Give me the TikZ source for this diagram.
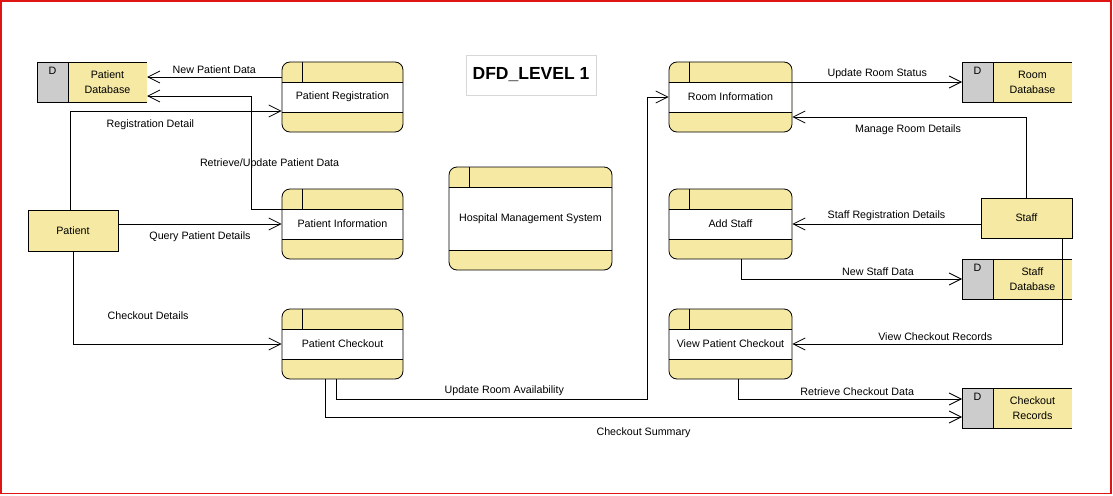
\documentclass[tikz,border=0pt]{standalone}
\usepackage{fontspec}
\setmainfont{Liberation Sans}
\usetikzlibrary{positioning,arrows.meta}
\definecolor{dfdyellow}{RGB}{245,233,163}
\definecolor{dfdgray}{RGB}{204,204,204}
\definecolor{framered}{RGB}{225,20,20}
\definecolor{titleline}{RGB}{215,215,215}

\begin{document}
\begin{tikzpicture}
            [x=1pt, y=-1pt, line width=0.8pt,
            font=\fontsize{10.7}{15}\selectfont,
            every node/.style={inner sep=3pt},
            proc/.style={rectangle, rounded corners=8pt, draw, fill=dfdyellow,
            minimum width=121pt, minimum height=70pt,
            path picture={
            \fill[white, sharp corners] ([yshift=-20pt]path picture bounding box.north west)
                rectangle ([yshift=20pt]path picture bounding box.south east);
            \draw[sharp corners] ([yshift=-20pt]path picture bounding box.north west)
                -- ([yshift=-20pt]path picture bounding box.north east)
                ([yshift=20pt]path picture bounding box.south west)
                -- ([yshift=20pt]path picture bounding box.south east)
                ([xshift=20pt]path picture bounding box.north west)
                -- ([xshift=20pt,yshift=-20pt]path picture bounding box.north west);}},
            entity/.style={rectangle, draw, fill=dfdyellow,
            minimum width=90pt, minimum height=41pt},
            store/.style={rectangle, fill=dfdyellow, align=center,
            minimum width=79pt, minimum height=40pt, outer sep=0pt},
            storeid/.style={rectangle, draw, fill=dfdgray, outer sep=0pt,
            minimum width=31pt, minimum height=40pt,
            label={[anchor=north, inner sep=4.5pt]north:D}},
            flow/.style={draw, -{Straight Barb[length=12pt,width=12pt]}}]
            \useasboundingbox (0,0) rectangle (1113,495);
            \draw[framered, line width=1.6pt] (1,0.8) rectangle (1111.2,493.6);

            \node[draw=titleline, line width=0.6pt, minimum width=130pt, minimum height=40pt,
                font=\bfseries\fontsize{17.5}{20}\selectfont] (title) at (531,75) {DFD\_LEVEL 1};

            \node[store] (pdb) at (107.5,82) {Patient\\Database};
            \node[storeid, left=0pt of pdb] (pdb-id) {};
            \draw (pdb-id.north west) -- (pdb.north east) (pdb-id.south west) -- (pdb.south east);
            \node[store] (rdb) at (1032.5,82) {Room\\Database};
            \node[storeid, left=0pt of rdb] (rdb-id) {};
            \draw (rdb-id.north west) -- (rdb.north east) (rdb-id.south west) -- (rdb.south east);
            \node[store] (sdb) at (1032.5,279) {Staff\\Database};
            \node[storeid, left=0pt of sdb] (sdb-id) {};
            \draw (sdb-id.north west) -- (sdb.north east) (sdb-id.south west) -- (sdb.south east);
            \node[store] (crec) at (1032.5,408) {Checkout\\Records};
            \node[storeid, left=0pt of crec] (crec-id) {};
            \draw (crec-id.north west) -- (crec.north east) (crec-id.south west) -- (crec.south east);

            \node[proc] (preg) at (342.5,97) {Patient Registration};
            \node[proc] (pinfo) at (342.5,224) {Patient Information};
            \node[proc] (pchk) at (342.5,344) {Patient Checkout};
            \node[proc, minimum width=163pt, minimum height=103pt] (hms) at (530.5,218.5) {Hospital Management System};
            \node[proc, minimum width=123pt] (rinfo) at (730.5,97) {Room Information};
            \node[proc, minimum width=123pt] (astaff) at (730.5,224) {Add Staff};
            \node[proc, minimum width=123pt] (vpc) at (730.5,344) {View Patient Checkout};
            \node[entity] (patient) at (73,230.5) {Patient};
            \node[entity, minimum width=91pt, minimum height=40pt] (staff) at (1026.5,218) {Staff};

            \draw[flow] ([yshift=20pt]preg.west) -- node[above] (l-npd) {New Patient Data} ([yshift=5pt]pdb.east);
            \draw[flow] ([yshift=15pt]pinfo.west) -- ++(-30,0)
                |- node[pos=0.2, xshift=18pt] (l-rupd) {Retrieve/Update Patient Data} ([yshift=-14pt]pdb.east);
            \draw[flow] ([xshift=-3pt]patient.north) |- node[pos=0.69, below=5pt] (l-rd) {Registration Detail} ([yshift=-14pt]preg.west);
            \draw[flow] ([yshift=6.5pt]patient.east) -- node[below=4pt] (l-qpd) {Query Patient Details} (pinfo.west);
            \draw[flow] (patient.south) |- node[pos=0.68, above=21pt] (l-cd) {Checkout Details} (pchk.west);
            \draw[flow] ([xshift=-6.5pt]pchk.south) -- ++(0,20)
                -| node[pos=0.27, above] (l-ura) {Update Room Availability} ([xshift=-21pt]rinfo.west) -- (rinfo.west);
            \draw[flow] ([xshift=-17.5pt]pchk.south) |- node[pos=0.75, below=7pt] (l-cs) {Checkout Summary} ([yshift=-9pt]crec-id.west);
            \draw[flow] ([xshift=7.5pt]vpc.south) |- node[pos=0.766, above] (l-rcd) {Retrieve Checkout Data} ([yshift=9pt]crec-id.west);
            \draw[flow] ([yshift=15pt]rinfo.east) -- node[above] (l-urs) {Update Room Status} (rdb-id.west);
            \draw[flow] (staff.north) |- node[pos=0.753, below=4pt] (l-mrd) {Manage Room Details} ([yshift=-20pt]rinfo.east);
            \draw[flow] ([yshift=-6pt]staff.west) -- node[above] (l-srd) {Staff Registration Details} (astaff.east);
            \draw[flow] ([xshift=10.5pt]astaff.south) |- node[pos=0.81, above] (l-nsd) {New Staff Data} (sdb-id.west);
            \draw[flow] ([xshift=35.5pt]staff.south) |- node[pos=0.735, above] (l-vcr) {View Checkout Records} (vpc.east);
\end{tikzpicture}
\end{document}
